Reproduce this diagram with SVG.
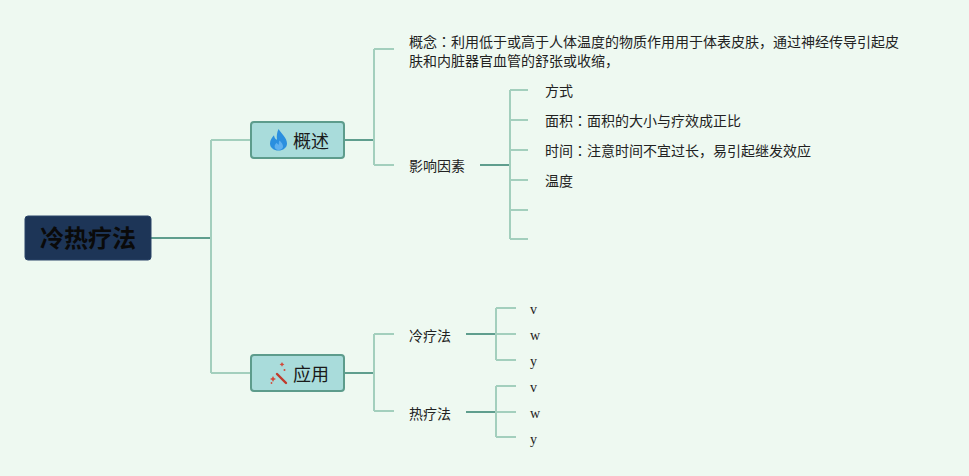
<svg xmlns="http://www.w3.org/2000/svg" width="969" height="476" viewBox="0 0 969 476">
<style>
.bg{fill:#eef9f1}
.dk{stroke:#5f9e8e;stroke-width:2;fill:none}
.lt{stroke:#a3cfbd;stroke-width:2;fill:none}
.node{fill:#a9dcdb;stroke:#5d9c8c;stroke-width:2}
.root{fill:#1d3557;stroke:#2a4468;stroke-width:1}
.t{font-family:"Noto Sans CJK SC","Noto Sans",sans-serif;font-size:14px;fill:#222}
.c{font-family:"Noto Sans CJK JP","Noto Sans CJK SC",sans-serif}
.tm{font-family:"Noto Sans CJK SC","Noto Sans",sans-serif;font-size:18px;fill:#1a1a1a}
.tr{font-family:"Noto Sans CJK SC","Noto Sans",sans-serif;font-size:24px;font-weight:bold;fill:#0a0a0a}
.s{font-family:"Liberation Serif","DejaVu Serif",serif;font-size:14px;fill:#222}
</style>
<rect class="bg" x="0" y="0" width="969" height="476"/>
<g id="connectors">
<path class="dk" d="M151,238 H211"/>
<path class="lt" d="M211,140 V373 M211,140 H251 M211,373 H251"/>
<path class="dk" d="M344,140 H374"/>
<path class="lt" d="M374,49 V165 M374,49 H394 M374,165 H394"/>
<path class="dk" d="M480,165 H510"/>
<path class="lt" d="M510,90 V239 M510,90 H528 M510,120 H528 M510,150 H528 M510,180 H528 M510,210 H528 M510,239 H528"/>
<path class="dk" d="M344,373 H374"/>
<path class="lt" d="M374,334 V411 M374,334 H394 M374,411 H394"/>
<path class="dk" d="M466,334 H496"/>
<path class="lt" d="M496,308 V360 M496,308 H516 M496,334 H516 M496,360 H516"/>
<path class="dk" d="M466,412 H496"/>
<path class="lt" d="M496,386 V437 M496,386 H516 M496,412 H516 M496,437 H516"/>
</g>
<g id="root">
<rect class="root" x="25" y="216" width="126" height="44" rx="3"/>
<text class="tr" x="88" y="247" text-anchor="middle">冷热疗法</text>
</g>
<g id="overview">
<rect class="node" x="251" y="122" width="93" height="36" rx="3"/>
<path d="M278.5,129 C281.5,134 287,138 287,143.5 C287,147.8 283.2,150.5 278.5,150.5 C273.8,150.5 270,147.8 270,143.5 C270,140 272,137.5 274,135.2 C274.4,137.6 275.4,139.2 277,139.8 C276.4,136 277,132.2 278.5,129 Z" fill="#2b8fdf"/>
<path d="M279.5,140.5 C281.5,142.5 283.3,144.5 283,147 C282.6,149 280.8,150 278.6,150 C276.3,150 274.6,148.6 274.6,146.5 C274.6,145 275.6,143.8 276.8,142.8 C277.2,144 278,144.6 279,144.6 C278.6,143.2 278.8,141.8 279.5,140.5 Z" fill="#5fb0ef"/>
<text class="tm" x="293" y="148">概述</text>
</g>
<g id="apply">
<rect class="node" x="251" y="355" width="93" height="36" rx="3"/>
<path d="M277,374 L286,383" stroke="#c0392b" stroke-width="2.4" stroke-linecap="round"/>
<path d="M273,376 l1,2 2,1 -2,1 -1,2 -1,-2 -2,-1 2,-1z" fill="#d24a3a"/>
<path d="M282,362 l0.8,1.6 1.6,0.8 -1.6,0.8 -0.8,1.6 -0.8,-1.6 -1.6,-0.8 1.6,-0.8z" fill="#d24a3a"/>
<circle cx="284.5" cy="370" r="1" fill="#d24a3a"/>
<circle cx="271.5" cy="383" r="0.9" fill="#d24a3a"/>
<text class="tm" x="293" y="381">应用</text>
</g>
<g id="concept">
<text class="t" x="409" y="47">概念<tspan class="c">：</tspan>利用低于或高于人体温度的物质作用用于体表皮肤，通过神经传导引起皮</text>
<text class="t" x="409" y="66">肤和内脏器官血管的舒张或收缩，</text>
</g>
<g id="factors"><text class="t" x="409" y="171">影响因素</text></g>
<g id="f1"><text class="t" x="545" y="96">方式</text></g>
<g id="f2"><text class="t" x="545" y="126">面积<tspan class="c">：</tspan>面积的大小与疗效成正比</text></g>
<g id="f3"><text class="t" x="545" y="156">时间<tspan class="c">：</tspan>注意时间不宜过长，易引起继发效应</text></g>
<g id="f4"><text class="t" x="545" y="186">温度</text></g>
<g id="cold"><text class="t" x="409" y="341">冷疗法</text></g>
<g id="hot"><text class="t" x="409" y="419">热疗法</text></g>
<g id="c1"><text class="s" x="530" y="314">v</text></g>
<g id="c2"><text class="s" x="530" y="340">w</text></g>
<g id="c3"><text class="s" x="530" y="366">y</text></g>
<g id="h1"><text class="s" x="530" y="392">v</text></g>
<g id="h2"><text class="s" x="530" y="418">w</text></g>
<g id="h3"><text class="s" x="530" y="444">y</text></g>
</svg>
